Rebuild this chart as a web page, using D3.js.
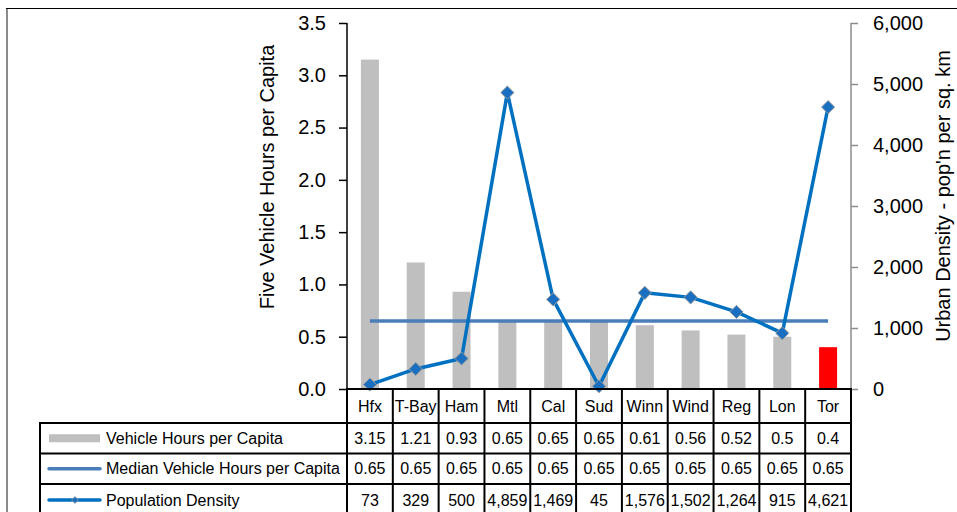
<!DOCTYPE html>
<html>
<head>
<meta charset="utf-8">
<script src="https://cdn.jsdelivr.net/npm/d3@7"></script>
<style>
  html, body { margin: 0; padding: 0; background: #fff; }
  svg { display: block; font-family: "Liberation Sans", Arial, sans-serif; }
</style>
</head>
<body>
<svg id="chart" width="957" height="512"></svg>
<script>
// Cities and their values
const cities = ["Hfx", "T-Bay", "Ham", "Mtl", "Cal", "Sud", "Winn", "Wind", "Reg", "Lon", "Tor"];
const vehicleHours = [3.15, 1.21, 0.93, 0.65, 0.65, 0.65, 0.61, 0.56, 0.52, 0.5, 0.4];
const medianHours = [0.65, 0.65, 0.65, 0.65, 0.65, 0.65, 0.65, 0.65, 0.65, 0.65, 0.65];
const popDensity = [73, 329, 500, 4859, 1469, 45, 1576, 1502, 1264, 915, 4621];
const leftTicks = [0, 0.5, 1.0, 1.5, 2.0, 2.5, 3.0, 3.5];
const rightTicks = [0, 1000, 2000, 3000, 4000, 5000, 6000];
const seriesNames = ["Vehicle Hours per Capita", "Median Vehicle Hours per Capita", "Population Density"];

const svg = d3.select("#chart");
const plot = { left: 347, right: 851, top: 23, bottom: 389 };

const x = d3.scaleBand().domain(cities).range([plot.left, plot.right]).padding(0);
const yL = d3.scaleLinear().domain([0, 3.5]).range([plot.bottom, plot.top]);
const yR = d3.scaleLinear().domain([0, 6000]).range([plot.bottom, plot.top]);
const cx = c => x(c) + x.bandwidth() / 2;

const barW = 18;
const medianColor = "#4a7ebb";
const densityColor = "#0070c0";

// Outer frame edges
svg.append("line").attr("x1", 7).attr("x2", 7).attr("y1", 8).attr("y2", 512)
  .attr("stroke", "#8c8c8c").attr("stroke-width", 2);
svg.append("line").attr("x1", 6).attr("x2", 957).attr("y1", 8.5).attr("y2", 8.5)
  .attr("stroke", "#000").attr("stroke-width", 1.2);

// Bars
svg.append("g").selectAll("rect").data(cities).join("rect")
  .attr("x", c => cx(c) - barW / 2)
  .attr("y", (c, i) => yL(vehicleHours[i]))
  .attr("width", barW)
  .attr("height", (c, i) => yL(0) - yL(vehicleHours[i]))
  .attr("fill", c => c === "Tor" ? "#ff0000" : "#bfbfbf");

// Median line
svg.append("path")
  .datum(cities)
  .attr("fill", "none").attr("stroke", medianColor).attr("stroke-width", 3.5)
  .attr("d", d3.line().x(c => cx(c)).y((c, i) => yL(medianHours[i])));

// Density line and markers
svg.append("path")
  .datum(cities)
  .attr("fill", "none").attr("stroke", densityColor).attr("stroke-width", 3.5)
  .attr("stroke-linejoin", "round")
  .attr("d", d3.line().x(c => cx(c)).y((c, i) => yR(popDensity[i])));

const diamond = d3.symbol().type(d3.symbolDiamond2).size(110);
svg.append("g").selectAll("path").data(cities).join("path")
  .attr("d", diamond)
  .attr("transform", (c, i) => `translate(${cx(c)},${yR(popDensity[i])})`)
  .attr("fill", "#1a6fc0").attr("stroke", "#9a9a9a").attr("stroke-width", 1);

// Left axis
const axL = svg.append("g").attr("transform", `translate(${plot.left},0)`)
  .call(d3.axisLeft(yL).tickValues(leftTicks).tickFormat(d3.format(".1f")).tickSize(8).tickPadding(13));
axL.select(".domain").attr("stroke", "#000").attr("stroke-width", 1.5).attr("d", `M0,${plot.top}V${plot.bottom}`);
axL.selectAll(".tick line").attr("stroke", "#000").attr("stroke-width", 1.5);
axL.selectAll(".tick text").attr("font-size", 20).attr("fill", "#000")
  .attr("font-family", "Liberation Sans, Arial, sans-serif");

// Right axis
const axR = svg.append("g").attr("transform", `translate(${plot.right},0)`)
  .call(d3.axisRight(yR).tickValues(rightTicks).tickFormat(d3.format(",")).tickSize(7).tickPadding(15));
axR.select(".domain").attr("stroke", "#8c8c8c").attr("stroke-width", 1.5).attr("d", `M0,${plot.top}V${plot.bottom}`);
axR.selectAll(".tick line").attr("stroke", "#8c8c8c").attr("stroke-width", 1.5);
axR.selectAll(".tick text").attr("font-size", 20).attr("fill", "#000")
  .attr("font-family", "Liberation Sans, Arial, sans-serif");

// Axis titles
svg.append("text").attr("transform", "translate(274,177) rotate(-90)")
  .attr("text-anchor", "middle").attr("font-size", 20).text("Five Vehicle Hours per Capita");
svg.append("text").attr("transform", "translate(950,196) rotate(-90)")
  .attr("text-anchor", "middle").attr("font-size", 20).text("Urban Density - pop'n per sq. km");

// Data table
const tbl = svg.append("g");
const rowEdges = [389, 423, 453.5, 484, 516];
const legendLeft = 40;
const lineStyle = s => s.attr("stroke", "#000").attr("stroke-width", 2);

// category header labels
tbl.selectAll("text.cat").data(cities).join("text").attr("class", "cat")
  .attr("x", c => cx(c)).attr("y", 406).attr("dy", "0.35em")
  .attr("text-anchor", "middle").attr("font-size", 16).text(d => d);

// horizontal rules
tbl.append("line").attr("x1", plot.left - 1).attr("x2", plot.right + 1)
  .attr("y1", rowEdges[0]).attr("y2", rowEdges[0]).call(lineStyle);
rowEdges.slice(1, 4).forEach(y => {
  tbl.append("line").attr("x1", legendLeft - 1).attr("x2", plot.right + 1)
    .attr("y1", y).attr("y2", y).call(lineStyle);
});
// vertical rules
const colEdges = cities.map(c => x(c)).concat([plot.right]);
colEdges.forEach(xx => {
  tbl.append("line").attr("x1", xx).attr("x2", xx)
    .attr("y1", rowEdges[0]).attr("y2", 516).call(lineStyle);
});
tbl.append("line").attr("x1", legendLeft).attr("x2", legendLeft)
  .attr("y1", rowEdges[1]).attr("y2", 516).call(lineStyle);

// value cells
const fmtDensity = d3.format(",");
const rows = [
  vehicleHours.map(v => String(v)),
  medianHours.map(v => String(v)),
  popDensity.map(v => fmtDensity(v))
];
rows.forEach((vals, r) => {
  const yc = (rowEdges[r + 1] + rowEdges[r + 2]) / 2;
  tbl.append("g").selectAll("text").data(vals).join("text")
    .attr("x", (v, i) => cx(cities[i])).attr("y", yc).attr("dy", "0.35em")
    .attr("text-anchor", "middle").attr("font-size", 16).text(v => v);
  tbl.append("text").attr("x", 106).attr("y", yc).attr("dy", "0.35em")
    .attr("font-size", 16).text(seriesNames[r]);
});

// legend keys
const ky = r => (rowEdges[r + 1] + rowEdges[r + 2]) / 2;
tbl.append("rect").attr("x", 49).attr("y", ky(0) - 4).attr("width", 51).attr("height", 8).attr("fill", "#bfbfbf");
tbl.append("line").attr("x1", 49).attr("x2", 100).attr("y1", ky(1)).attr("y2", ky(1))
  .attr("stroke", medianColor).attr("stroke-width", 3.5).attr("stroke-linecap", "round");
tbl.append("line").attr("x1", 49).attr("x2", 100).attr("y1", ky(2)).attr("y2", ky(2))
  .attr("stroke", densityColor).attr("stroke-width", 3.5).attr("stroke-linecap", "round");
tbl.append("path").attr("d", d3.symbol().type(d3.symbolDiamond2).size(30))
  .attr("transform", `translate(75,${ky(2)})`)
  .attr("fill", "#1a6fc0").attr("stroke", "#9a9a9a").attr("stroke-width", 0.8);
</script>
</body>
</html>
